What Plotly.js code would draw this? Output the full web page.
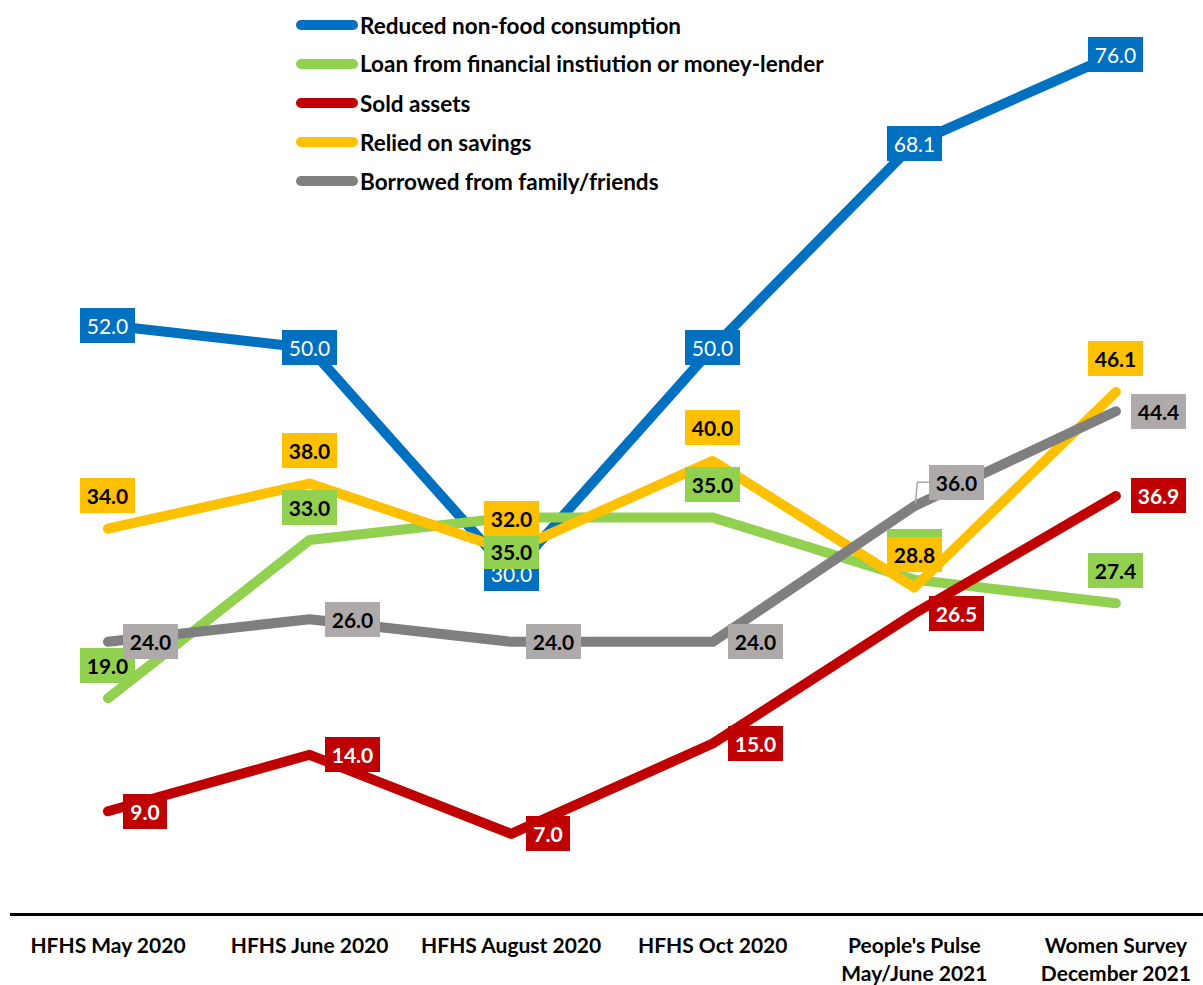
<!DOCTYPE html>
<html>
<head>
<meta charset="utf-8">
<script src="https://cdn.plot.ly/plotly-3.0.1.min.js"></script>
<style>
  html, body { margin: 0; padding: 0; background: #fff; }
  #chart { width: 1203px; height: 985px; }
  .scatterlayer .js-line { stroke-linecap: round; stroke-linejoin: round; }
  .shapelayer path { stroke-linecap: round; }
</style>
</head>
<body>
<div id="chart"></div>
<script>
// ---- data ----
const categories = ['HFHS May 2020', 'HFHS June 2020', 'HFHS August 2020', 'HFHS Oct 2020',
                    "People's Pulse<br>May/June 2021", 'Women Survey<br>December 2021'];
const seriesNames = ['Reduced non-food consumption', 'Loan from financial instiution or money-lender',
                     'Sold assets', 'Relied on savings', 'Borrowed from family/friends'];
const reducedNonFood = [52.0, 50.0, 30.0, 50.0, 68.1, 76.0];
const loanFinancial  = [19.0, 33.0, 35.0, 35.0, 29.5, 27.4];
const soldAssets     = [9.0, 14.0, 7.0, 15.0, 26.5, 36.9];
const reliedSavings  = [34.0, 38.0, 32.0, 40.0, 28.8, 46.1];
const borrowedFamily = [24.0, 26.0, 24.0, 24.0, 36.0, 44.4];

// ---- styles ----
const W = 1203, H = 985;
const M = {l: 10, r: 0, t: 10, b: 72};
const FONT = 'Lato, "Open Sans", sans-serif';
const xIdx = categories.map((c, i) => i);

const series = [
  {name: seriesNames[0], y: reducedNonFood, line: '#0070C0', bg: '#0070C0', fc: '#FFFFFF', bold: false,
   pos: ['c','c','c','c','c','c']},
  {name: seriesNames[1], y: loanFinancial, line: '#92D050', bg: '#92D050', fc: '#000000', bold: true,
   pos: ['a','a','b','a','a','a']},
  {name: seriesNames[2], y: soldAssets, line: '#C00000', bg: '#C00000', fc: '#FFFFFF', bold: true,
   pos: ['r','r','r','r','r','r']},
  {name: seriesNames[3], y: reliedSavings, line: '#FFC000', bg: '#FFC000', fc: '#000000', bold: true,
   pos: ['a','a','a','a','a','a']},
  {name: seriesNames[4], y: borrowedFamily, line: '#7F7F7F', bg: '#AEAAAA', fc: '#000000', bold: true,
   pos: ['r','r','r','r','ru','r']}
];

const traces = series.map(s => ({
  type: 'scatter', mode: 'lines', x: xIdx, y: s.y, name: s.name,
  line: {color: s.line, width: 10}, hoverinfo: 'skip', showlegend: false
}));

const annotations = [];
series.forEach(s => {
  s.y.forEach((v, i) => {
    const txt = v.toFixed(1);
    const p = s.pos[i];
    const a = {
      xref: 'x', yref: 'y', x: xIdx[i], y: v, showarrow: false,
      text: s.bold ? '<b>' + txt + '</b>' : txt,
      font: {family: FONT, size: 21, color: s.fc},
      bgcolor: s.bg, borderpad: 0, borderwidth: 0,
      width: txt.length > 3 ? 55 : 44, height: 35,
      xanchor: 'center', yanchor: 'middle', xshift: 0, yshift: 0, align: 'center', valign: 'middle'
    };
    if (p === 'a') a.yshift = 33;
    if (p === 'b') a.yshift = -34;
    if (p === 'r' || p === 'ru') { a.xanchor = 'left'; a.xshift = 15; }
    if (p === 'ru') a.yshift = 24;
    annotations.push(a);
  });
});

// manual legend
const px2x = px => (px - M.l) / (W - M.l - M.r);
const px2y = py => 1 - (py - M.t) / (H - M.t - M.b);
const shapes = [];
series.forEach((s, k) => {
  const yc = 25 + 39 * k;
  shapes.push({type: 'line', xref: 'paper', yref: 'paper', x0: px2x(301), x1: px2x(353),
               y0: px2y(yc), y1: px2y(yc), line: {color: s.line, width: 10}});
  annotations.push({xref: 'paper', yref: 'paper', x: px2x(358), y: px2y(yc), xanchor: 'left', yanchor: 'middle',
                    showarrow: false, text: '<b>' + s.name + '</b>', font: {family: FONT, size: 22.5, color: '#000'}});
});
// leader line for moved label
shapes.push({type: 'path', xref: 'x', yref: 'y', xsizemode: 'pixel', ysizemode: 'pixel',
             xanchor: xIdx[4], yanchor: borrowedFamily[4], path: 'M1,3 L3,24 L14,24',
             line: {color: '#A6A6A6', width: 1.5}});

const layout = {
  width: W, height: H, margin: M, paper_bgcolor: '#fff', plot_bgcolor: '#fff',
  showlegend: false,
  xaxis: {range: [-0.486, 5.432], tickvals: xIdx, ticktext: categories, showgrid: false, zeroline: false,
          showline: true, linecolor: '#000', linewidth: 3, ticks: '', fixedrange: true, ticklabelstandoff: 12,
          tickfont: {family: FONT, size: 21, color: '#000', weight: 'bold'}},
  yaxis: {range: [0, 79.9], visible: false, showgrid: false, zeroline: false, fixedrange: true},
  annotations: annotations, shapes: shapes
};

Plotly.newPlot('chart', traces, layout, {displayModeBar: false, staticPlot: true});
</script>
</body>
</html>
